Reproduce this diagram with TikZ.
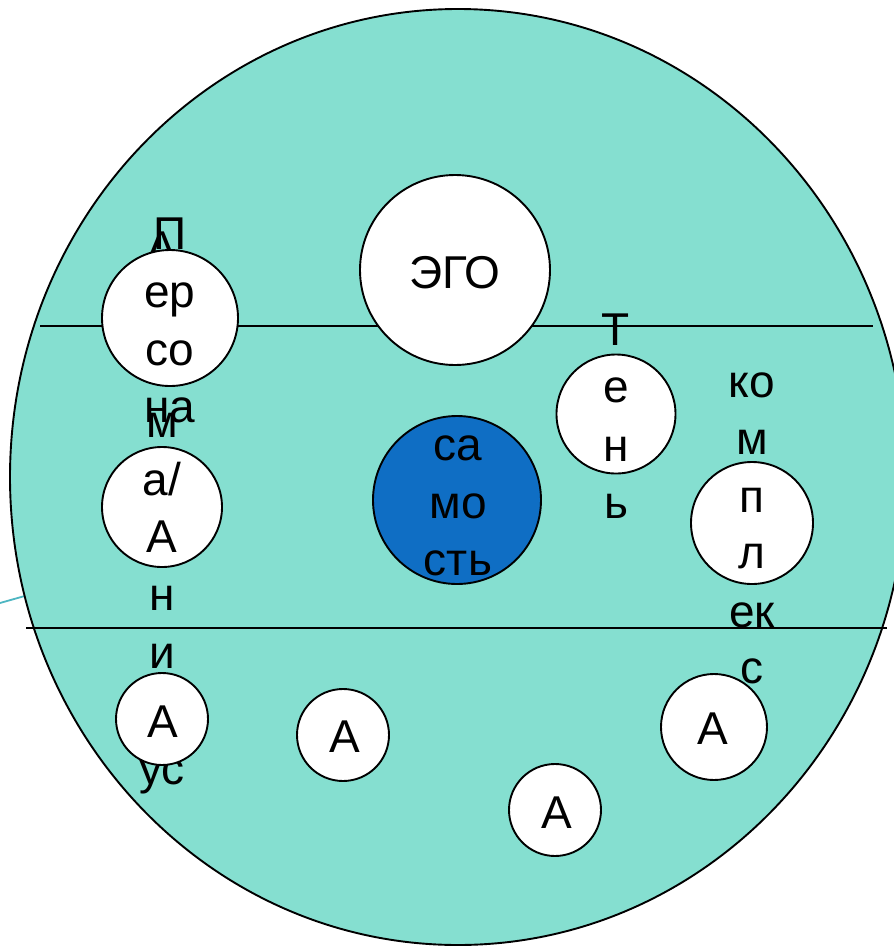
\documentclass[tikz,border=0pt]{standalone}
\usepackage{fontspec}
\setmainfont{Liberation Sans}
\usetikzlibrary{shapes.geometric}
\definecolor{psychefill}{RGB}{133,223,208}
\definecolor{selfblue}{RGB}{15,110,196}
\definecolor{thinline}{RGB}{77,182,194}
\tikzset{
  bubble/.style={circle, draw=black, line width=1.9pt, fill=white, inner sep=0pt},
  lbl/.style={anchor=base, inner sep=0pt, font=\fontsize{46}{58}\selectfont},
  divider/.style={draw=black, line width=1.9pt}
}
\begin{document}
\begin{tikzpicture}[x=1pt,y=-1pt]
\useasboundingbox (0,0) rectangle (894,946);
\clip (0,0) rectangle (894,946);
\fill[white] (0,0) rectangle (894,946);
% thin teal line at left
\coordinate (ls) at (0,603);
\coordinate (le) at (60,586);
\draw[thinline, line width=1.8pt] (ls) -- (le);
% big ellipse
\node[ellipse, draw=black, line width=1.9pt, fill=psychefill, minimum width=896pt, minimum height=936pt, inner sep=0pt] (psyche) at (458,477) {};
% dividers
\coordinate (d1a) at (40,326);
\coordinate (d1b) at (873,326);
\coordinate (d2a) at (26,628);
\coordinate (d2b) at (887,628);
\draw[divider] (d1a) -- (d1b);
\draw[divider] (d2a) -- (d2b);
% anima circle, under the Anima text
\node[bubble, minimum size=120pt] (anima) at (162,507) {};
\foreach \t/\y [count=\i] in {А/263, н/321, и/379, м/437, {а/}/495, А/552, н/610, и/668, м/726, ус/784}
  \node[lbl] (animatext-\i) at (162,\y) {\t};
% persona circle and first A circle above the Anima text
\node[bubble, minimum size=136pt] (persona) at (170,318) {};
\node[bubble, minimum size=92pt] (a1) at (162,719) {};
\node[lbl] (a1text) at (163,737) {А};
\foreach \t/\y [count=\i] in {П/249, ер/307, со/365, на/422}
  \node[lbl] (personatext-\i) at (170,\y) {\t};
% ego
\node[bubble, minimum size=190pt] (ego) at (455,270) {};
\node[lbl] (egotext) at (455,288) {ЭГО};
% shadow
\node[bubble, minimum size=119pt] (shadow) at (616,414) {};
\foreach \t/\y [count=\i] in {Т/345, е/402, н/461, ь/518}
  \node[lbl] (shadowtext-\i) at (616,\y) {\t};
% self
\node[bubble, fill=selfblue, minimum size=168pt] (self) at (457,500) {};
\foreach \t/\y [count=\i] in {са/460, мо/518, сть/575}
  \node[lbl] (selftext-\i) at (458,\y) {\t};
% other A circles
\node[bubble, minimum size=92pt] (a2) at (343,735) {};
\node[lbl] (a2text) at (345,752) {А};
\node[bubble, minimum size=92pt] (a3) at (555,810) {};
\node[lbl] (a3text) at (557,828) {А};
\node[bubble, minimum size=106pt] (a4) at (714,727) {};
\node[lbl] (a4text) at (713,744) {А};
% complex
\node[bubble, minimum size=122pt] (complex) at (752,523) {};
\foreach \t/\y [count=\i] in {ко/397, м/454, п/512, л/568, ек/627, с/683}
  \node[lbl] (complextext-\i) at (752,\y) {\t};
\end{tikzpicture}
\end{document}
